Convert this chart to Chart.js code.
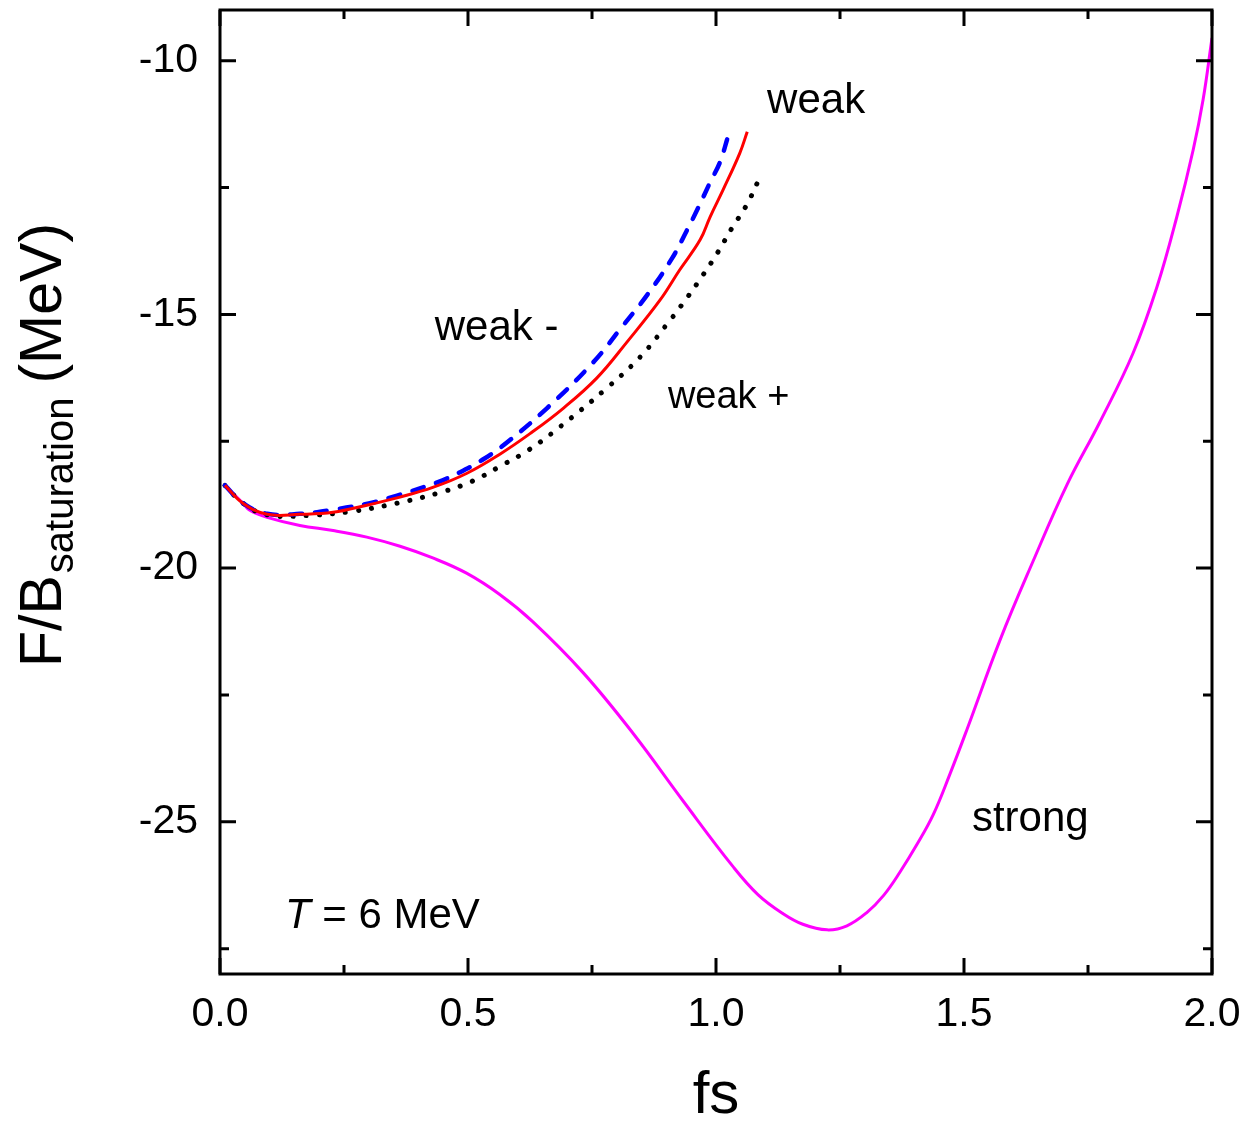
<!DOCTYPE html>
<html lang="en">
<head>
    <meta charset="UTF-8">
    <title>F/B saturation vs fs</title>
    <script src="https://cdn.jsdelivr.net/npm/chart.js"></script>
    <style>
        body {
            margin: 0;
            background-color: #fff;
        }
        canvas {
            display: block;
        }
    </style>
</head>
<body>
    <canvas id="chart" width="1251" height="1125"></canvas>

    <script>
        // strong (magenta, solid)
        const strongFs = [0.010, 0.046, 0.060, 0.095, 0.161, 0.228, 0.296, 0.363, 0.429, 0.497, 0.564, 0.631, 0.732, 0.833, 0.933, 1.034, 1.085, 1.135, 1.175, 1.224, 1.264, 1.304, 1.338, 1.371, 1.405, 1.438, 1.472, 1.506, 1.573, 1.639, 1.708, 1.774, 1.841, 1.889, 1.929, 1.962, 1.982, 2.000];
        const strongF = [-18.37, -18.72, -18.86, -19.00, -19.16, -19.26, -19.39, -19.57, -19.80, -20.10, -20.52, -21.06, -22.06, -23.26, -24.58, -25.88, -26.44, -26.81, -27.02, -27.13, -27.05, -26.79, -26.45, -25.99, -25.45, -24.86, -24.05, -23.18, -21.41, -19.87, -18.35, -17.12, -15.76, -14.46, -13.08, -11.76, -10.77, -9.55];

        // weak (red, solid)
        const weakFs = [0.010, 0.046, 0.095, 0.161, 0.228, 0.296, 0.363, 0.429, 0.498, 0.565, 0.625, 0.692, 0.760, 0.820, 0.887, 0.927, 0.968, 0.988, 1.014, 1.048, 1.063];
        const weakF = [-18.37, -18.72, -18.94, -18.94, -18.90, -18.76, -18.60, -18.41, -18.13, -17.75, -17.35, -16.85, -16.25, -15.55, -14.72, -14.12, -13.53, -13.08, -12.55, -11.82, -11.40];

        // weak - (blue, dashed)
        const weakMinusFs = [0.010, 0.046, 0.095, 0.161, 0.228, 0.302, 0.357, 0.438, 0.484, 0.530, 0.579, 0.659, 0.752, 0.810, 0.861, 0.911, 0.941, 0.964, 0.988, 1.008, 1.024];
        const weakMinusF = [-18.37, -18.72, -18.93, -18.93, -18.85, -18.72, -18.57, -18.31, -18.11, -17.86, -17.52, -16.85, -15.95, -15.25, -14.62, -13.90, -13.35, -12.90, -12.40, -12.00, -11.50];

        // weak + (black, dotted)
        const weakPlusFs = [0.010, 0.046, 0.095, 0.181, 0.268, 0.357, 0.444, 0.508, 0.569, 0.621, 0.685, 0.780, 0.847, 0.903, 0.938, 0.974, 1.004, 1.032, 1.062, 1.087];
        const weakPlusF = [-18.37, -18.72, -18.95, -18.96, -18.88, -18.72, -18.51, -18.29, -17.97, -17.68, -17.22, -16.45, -15.84, -15.17, -14.72, -14.22, -13.77, -13.30, -12.84, -12.33];

        // axes
        const xMajorTicks = [0, 0.5, 1.0, 1.5, 2.0];
        const xMinorTicks = [0.25, 0.75, 1.25, 1.75];
        const yMajorTicks = [-25, -20, -15, -10];
        const yMinorTicks = [-27.5, -22.5, -17.5, -12.5];

        // text labels placed in data coordinates: [text, fs, F, font size]
        const curveLabels = [
            ['weak', 1.103, -11.03, 42],
            ['weak -', 0.433, -15.51, 42],
            ['weak +', 0.903, -16.85, 38],
            ['strong', 1.516, -25.18, 42]
        ];

        const FONT = '"Liberation Sans", Arial, sans-serif';

        function toPoints(xs, ys) {
            return xs.map((x, i) => ({ x: x, y: ys[i] }));
        }

        // frame + inward ticks on all four sides, labels and axis titles
        const framePlugin = {
            id: 'frame',
            afterDatasetsDraw(chart) {
                const ctx = chart.ctx;
                const a = chart.chartArea;
                const xs = chart.scales.x, ys = chart.scales.y;
                ctx.save();
                ctx.strokeStyle = '#000';
                ctx.lineWidth = 3;
                ctx.strokeRect(a.left, a.top, a.right - a.left, a.bottom - a.top);
                ctx.beginPath();
                const drawX = (vals, len) => vals.forEach(v => {
                    const px = xs.getPixelForValue(v);
                    ctx.moveTo(px, a.bottom); ctx.lineTo(px, a.bottom - len);
                    ctx.moveTo(px, a.top); ctx.lineTo(px, a.top + len);
                });
                const drawY = (vals, len) => vals.forEach(v => {
                    const py = ys.getPixelForValue(v);
                    ctx.moveTo(a.left, py); ctx.lineTo(a.left + len, py);
                    ctx.moveTo(a.right, py); ctx.lineTo(a.right - len, py);
                });
                drawX(xMajorTicks, 16);
                drawX(xMinorTicks, 9);
                drawY(yMajorTicks, 16);
                drawY(yMinorTicks, 9);
                ctx.stroke();

                // curve labels
                ctx.fillStyle = '#000';
                ctx.textAlign = 'left';
                ctx.textBaseline = 'alphabetic';
                curveLabels.forEach(([t, fx, fy, size]) => {
                    ctx.font = size + 'px ' + FONT;
                    ctx.fillText(t, xs.getPixelForValue(fx), ys.getPixelForValue(fy));
                });

                // T = 6 MeV
                let tx = xs.getPixelForValue(0.131);
                const ty = ys.getPixelForValue(-27.09);
                ctx.font = 'italic 42px ' + FONT;
                ctx.fillText('T', tx, ty);
                tx += ctx.measureText('T').width;
                ctx.font = '42px ' + FONT;
                ctx.fillText(' = 6 MeV', tx, ty);

                // axis titles
                ctx.font = '60px ' + FONT;
                ctx.textAlign = 'center';
                ctx.fillText('fs', (a.left + a.right) / 2, 1113);

                ctx.translate(61, 667);
                ctx.rotate(-Math.PI / 2);
                ctx.textAlign = 'left';
                ctx.font = '59px ' + FONT;
                ctx.fillText('F/B', 0, 0);
                let w = ctx.measureText('F/B').width + 2;
                ctx.font = '40px ' + FONT;
                ctx.fillText('saturation', w, 12);
                w += ctx.measureText('saturation').width + 14;
                ctx.font = '59px ' + FONT;
                ctx.fillText('(MeV)', w, 0);
                ctx.restore();
            }
        };

        const ctx = document.getElementById('chart').getContext('2d');
        new Chart(ctx, {
            type: 'line',
            data: {
                datasets: [
                    {
                        label: 'weak',
                        data: toPoints(weakFs, weakF),
                        borderColor: '#ff0000',
                        borderWidth: 3,
                        order: 0
                    },
                    {
                        label: 'weak -',
                        data: toPoints(weakMinusFs, weakMinusF),
                        borderColor: '#0000ff',
                        borderWidth: 4.5,
                        borderDash: [12, 13],
                        borderCapStyle: 'round',
                        order: 1
                    },
                    {
                        label: 'weak +',
                        data: toPoints(weakPlusFs, weakPlusF),
                        borderColor: '#000000',
                        borderWidth: 5,
                        borderDash: [0.1, 13],
                        borderCapStyle: 'round',
                        order: 2
                    },
                    {
                        label: 'strong',
                        data: toPoints(strongFs, strongF),
                        borderColor: '#ff00ff',
                        borderWidth: 3,
                        order: 3
                    }
                ]
            },
            options: {
                responsive: false,
                animation: false,
                layout: {
                    padding: { top: 10, right: 39, left: 0, bottom: 0 }
                },
                elements: {
                    point: { radius: 0 },
                    line: { tension: 0.4, fill: false }
                },
                scales: {
                    x: {
                        type: 'linear',
                        min: 0,
                        max: 2,
                        grid: { display: false },
                        border: { display: false },
                        afterFit: (scale) => {
                            scale.height = 151;
                            scale.paddingLeft = 0;
                            scale.paddingRight = 0;
                        },
                        afterBuildTicks: (scale) => {
                            scale.ticks = xMajorTicks.map(v => ({ value: v }));
                        },
                        ticks: {
                            padding: 8,
                            color: '#000',
                            font: { family: FONT, size: 41 },
                            callback: (v) => Number(v).toFixed(1)
                        }
                    },
                    y: {
                        type: 'linear',
                        min: -28,
                        max: -9,
                        grid: { display: false },
                        border: { display: false },
                        afterFit: (scale) => {
                            scale.width = 220;
                            scale.paddingTop = 0;
                            scale.paddingBottom = 0;
                        },
                        afterBuildTicks: (scale) => {
                            scale.ticks = yMajorTicks.map(v => ({ value: v }));
                        },
                        ticks: {
                            padding: 14,
                            color: '#000',
                            font: { family: FONT, size: 41 },
                            callback: (v) => String(v)
                        }
                    }
                },
                plugins: {
                    legend: { display: false },
                    tooltip: { enabled: false }
                }
            },
            plugins: [framePlugin]
        });
    </script>
</body>
</html>
